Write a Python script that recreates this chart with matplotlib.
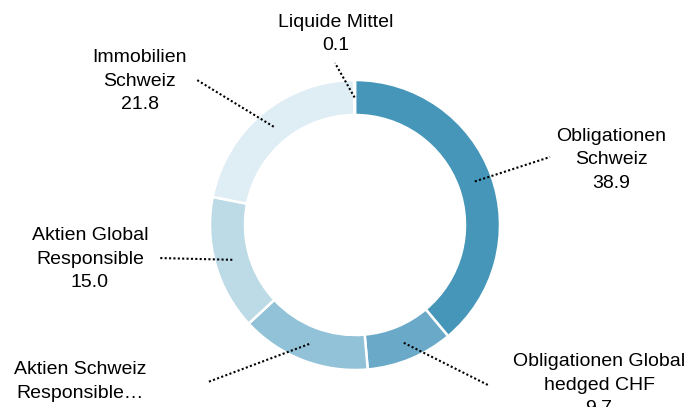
import matplotlib.pyplot as plt
import numpy as np

plt.rcParams['font.family'] = ['Liberation Sans', 'DejaVu Sans']

# data (clockwise from 12 o'clock)
labels = ['Obligationen\nSchweiz', 'Obligationen Global\nhedged CHF',
          'Aktien Schweiz\nResponsible\u2026', 'Aktien Global\nResponsible',
          'Immobilien\nSchweiz', 'Liquide Mittel']
values = [38.9, 9.7, 14.5, 15.0, 21.8, 0.1]
colors = ['#4596b9', '#6aaac8', '#92c2d7', '#bcdbe6', '#dfedf4', '#e9eef0']

# layout (pixel coords): end of leader line, label centre
line_ends = [(550, 157), (488, 385), (208, 382), (158, 258), (197, 80), (335, 63)]
text_pos = [(611, 160), (599, 385), (80, 393), (90, 259), (140, 81), (336, 34)]

W, H = 687, 407
fig = plt.figure(figsize=(W / 100, H / 100), dpi=100)
ax = fig.add_axes([0, 0, 1, 1])

cx, cy, R, ring = 355, 225, 145, 35
wedges, _ = ax.pie(values, colors=colors, center=(cx, cy), radius=R,
                   startangle=-90, counterclock=True,
                   wedgeprops=dict(width=ring, edgecolor='white', linewidth=1.8))

ax.set_xlim(0, W)
ax.set_ylim(H, 0)
ax.set_aspect('equal')
ax.axis('off')

rmid = R - ring / 2
for w, lab, v, end, tp in zip(wedges, labels, values, line_ends, text_pos):
    a = np.deg2rad((w.theta1 + w.theta2) / 2)
    sx, sy = cx + rmid * np.cos(a), cy + rmid * np.sin(a)
    ax.plot([sx, end[0]], [sy, end[1]], color='black', linestyle=(0, (1, 1.1)),
            linewidth=1.5, solid_capstyle='butt')
    ax.text(tp[0], tp[1], f'{lab}\n{v:.1f}', ha='center', va='center',
            multialignment='center', fontsize=14, linespacing=1.47,
            color='black')

fig.savefig('out.png', dpi=100)
